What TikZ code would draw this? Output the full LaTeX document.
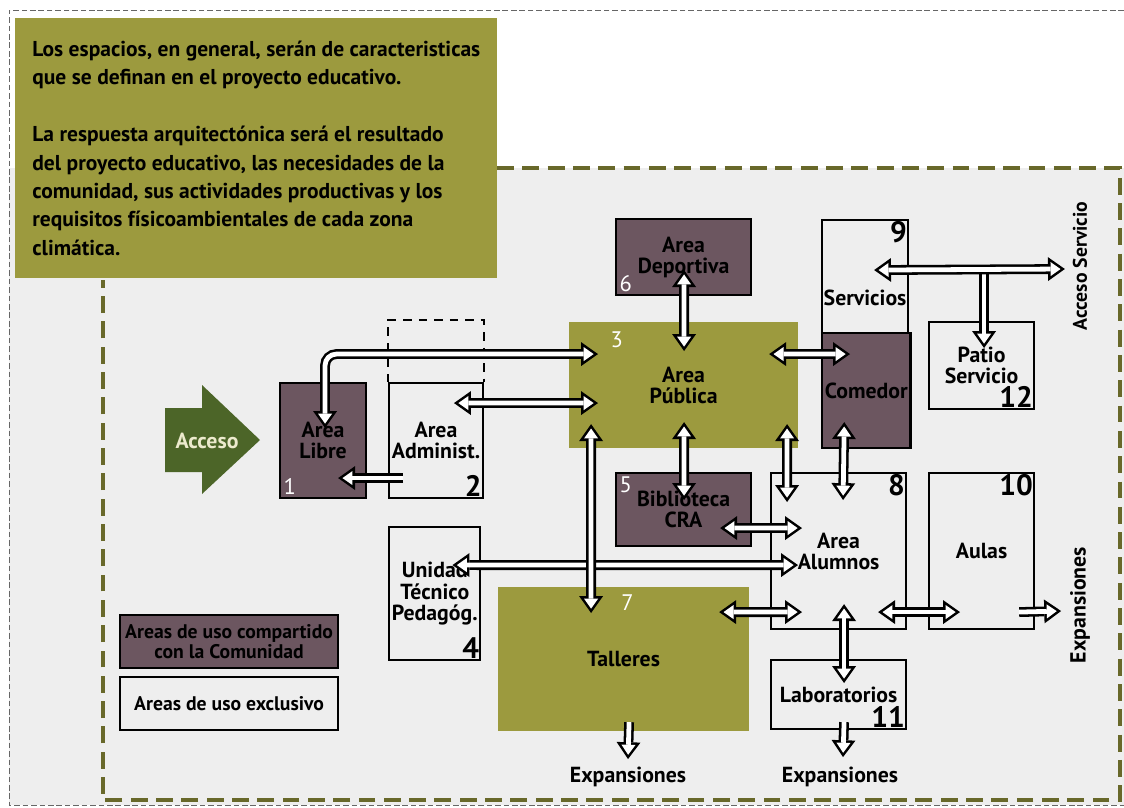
\documentclass[tikz,border=0pt]{standalone}
\usepackage{fontspec}
\setmainfont{PT Sans}
\usepackage{xcolor}
\usepackage{tikz}
\usetikzlibrary{arrows.meta,positioning}

\definecolor{oliva}{RGB}{156,154,62}
\definecolor{malva}{RGB}{108,86,96}
\definecolor{verdeacc}{RGB}{76,101,40}
\definecolor{borde}{RGB}{104,104,42}
\definecolor{fondo}{RGB}{238,238,238}
\definecolor{crema}{RGB}{236,234,205}

\begin{document}
\begin{tikzpicture}[
  x=0.025cm, y=-0.025cm,
  area/.style={draw, line width=1.5pt, inner sep=2pt, anchor=north west,
               font=\bfseries\fontsize{15.5}{15}\selectfont, align=center},
  comun/.style={area, fill=malva},
  exclus/.style={area, fill=fondo},
  num/.style={font=\bfseries\fontsize{21}{21}\selectfont, inner sep=1.5pt},
  numw/.style={font=\fontsize{16}{16}\selectfont, text=white, inner sep=3pt},
  rotulo/.style={font=\bfseries\fontsize{15.5}{15}\selectfont},
  puntab/.tip={Triangle[length=12pt, width=17pt, line width=0pt]},
  puntaw/.tip={Triangle[length=7.1pt, width=10pt, line width=0pt]},
  flecha/.style={white, line width=3.4pt, shorten <=3.1pt, shorten >=3.1pt,
                 {puntaw}-{puntaw},
                 preaction={draw=black, line width=7pt, shorten <=0pt, shorten >=0pt,
                            {puntab}-{puntab}}},
  flechau/.style={white, line width=3.4pt, shorten >=3.1pt, -{puntaw},
                  preaction={draw=black, line width=7pt, shorten >=0pt, -{puntab}}}
]
  \useasboundingbox (0,0) rectangle (1124,808);

  % Fondo y bordes
  \fill[fondo] (9,168) rectangle (1124,805);
  \draw[gray!80!black, line width=0.7pt, dash pattern=on 4pt off 2pt]
    (1124,10) -- (9,10) -- (9,805) -- (1124,805);
  \draw[borde, line width=2.2pt, dash pattern=on 12pt off 6pt]
    (497,168) -- (1120,168) -- (1120,800) -- (103,800) -- (103,280);

  % Texto
  \node[fill=oliva, anchor=north west, minimum width=12.05cm, minimum height=6.5cm,
        inner sep=0pt, align=left, font=\bfseries\fontsize{15.3}{20.2}\selectfont] (texto) at (15,18)
    {Los espacios, en general, serán de caracteristicas\\
     que se definan en el proyecto educativo.\\[20.2pt]
     La respuesta arquitectónica será el resultado\\
     del proyecto educativo, las necesidades de la\\
     comunidad, sus actividades productivas y los\\
     requisitos físicoambientales de cada zona\\
     climática.};

  % Acceso
  \fill[verdeacc] (165,408) -- (202,408) -- (202,385) -- (260,440) -- (202,494)
    -- (202,472) -- (165,472) -- cycle;
  \node[text=crema, font=\bfseries\fontsize{15.5}{15}\selectfont] (acceso) at (207,441) {Acceso};

  % Areas
  \node[comun, minimum width=2.15cm, minimum height=2.875cm,
        label={[numw, anchor=south west]south west:1}] (libre) at (279,382) {Area\\Libre};
  \node[exclus, minimum width=2.225cm, minimum height=2.875cm,
        label={[num, anchor=south east]south east:2}] (adm) at (388,382) {Area\\Administ.};
  \draw[line width=1.2pt, dash pattern=on 6pt off 5pt]
    (adm.north west) -- ++(0,-62) -| (adm.north east);
  \node[exclus, minimum width=2.225cm, minimum height=3.325cm,
        label={[num, anchor=south east]south east:4}] (utp) at (388,526) {Unidad\\Técnico\\Pedagóg.};

  \node[comun, minimum width=3.375cm, minimum height=1.9cm,
        label={[numw, anchor=south west]south west:6}] (dep) at (615,218) {Area\\Deportiva};
  \node[area, draw=none, fill=oliva, minimum width=5.725cm, minimum height=3.15cm,
        label={[numw, anchor=north west, xshift=0.95cm, yshift=-0.15cm]north west:3}] (pub) at (568,321) {Area\\Pública};
  \node[comun, minimum width=3.375cm, minimum height=1.825cm,
        label={[numw, anchor=north west]north west:5}] (bib) at (615,472) {Biblioteca\\CRA};
  \node[area, draw=none, fill=oliva, minimum width=6.275cm, minimum height=3.6cm,
        label={[numw, anchor=north, xshift=0.1cm, yshift=-0.1cm]north:7}] (tall) at (497,586) {Talleres};

  \node[exclus, minimum width=2.15cm, minimum height=2.825cm,
        label={[num, anchor=north east]north east:9},
        label={[rotulo, yshift=-0.54cm]center:Servicios}] (serv) at (821,219) {};
  \node[comun, minimum width=2.15cm, minimum height=2.875cm] (com) at (821,332) {Comedor};
  \node[exclus, minimum width=2.625cm, minimum height=2.175cm,
        label={[num, anchor=south east]south east:12}] (patio) at (928,321) {Patio\\Servicio};

  \node[exclus, minimum width=3.375cm, minimum height=3.9cm,
        label={[num, anchor=north east]north east:8}] (alum) at (770,472) {Area\\Alumnos};
  \node[exclus, minimum width=2.625cm, minimum height=3.9cm,
        label={[num, anchor=north east]north east:10}] (aulas) at (928,472) {Aulas};
  \node[exclus, minimum width=3.375cm, minimum height=1.725cm,
        label={[num, anchor=south east]south east:11}] (lab) at (770,659) {Laboratorios};

  % Leyenda
  \node[comun, minimum width=5.45cm, minimum height=1.325cm,
        font=\bfseries\fontsize{14}{14}\selectfont] (ley1) at (119,614)
    {Areas de uso compartido\\con la Comunidad};
  \node[exclus, minimum width=5.45cm, minimum height=1.325cm,
        font=\bfseries\fontsize{14}{14}\selectfont] (ley2) at (119,676)
    {Areas de uso exclusivo};

  % Salidas
  \node[rotulo, rotate=90, font=\bfseries\fontsize{14}{14}\selectfont] (accserv) at (1080,266) {Acceso Servicio};
  \node[rotulo, rotate=90] (expder) at (1080,605) {Expansiones};
  \node[rotulo] (exptall) at (628,777) {Expansiones};
  \node[rotulo] (explab) at (840,777) {Expansiones};

  % Flechas
  \draw[flecha, rounded corners=8pt] ([shift={(2,46)}]libre.north) |- ([shift={(30,-31)}]pub.west);
  \draw[flecha] ([shift={(-30,-37.5)}]adm.east) -- ([shift={(30,18)}]pub.west);
  \draw[flechau] ([shift={(15,37.5)}]adm.west) -- ([shift={(-29,37.5)}]libre.east);
  \draw[flecha] ([shift={(0.5,-26)}]dep.south) -- ([shift={(0.5,30)}]pub.north);
  \draw[flecha] ([shift={(-30,-31)}]pub.east) -- ([shift={(29,-36.5)}]com.west);
  \draw[flechau] ([shift={(2.5,-52)}]patio.north) -- ([shift={(2.5,27)}]patio.north);
  \draw[flecha] ([shift={(-35,-6.5)}]serv.east) -- ([shift={(-3,3)}]accserv.north);
  \draw[flecha] ([shift={(0.5,-27)}]pub.south) -- ([shift={(0.5,28)}]bib.north);
  \draw[flecha] ([shift={(103.5,-25)}]pub.south) -- ([shift={(-51.5,30)}]alum.north);
  \draw[flecha] ([shift={(-22,-27)}]com.south) -- ([shift={(4.5,28)}]alum.north);
  \draw[flecha] ([shift={(-32,18.5)}]bib.east) -- ([shift={(32,-23)}]alum.west);
  \draw[flecha] ([shift={(-29,-28.5)}]utp.east) -- ([shift={(28,14)}]alum.west);
  \draw[flecha] ([shift={(-92.5,-25)}]pub.south) -- ([shift={(-32.5,27)}]tall.north);
  \draw[flecha] ([shift={(-31,-47)}]tall.east) -- ([shift={(32,61)}]alum.west);
  \draw[flecha] ([shift={(5.5,-26)}]alum.south) -- ([shift={(5.5,24)}]lab.north);
  \draw[flecha] ([shift={(-29,61)}]alum.east) -- ([shift={(32,61)}]aulas.west);
  \draw[flechau] ([shift={(-16,61)}]aulas.east) -- ([shift={(-4,6)}]expder.north);
  \draw[flechau] ([shift={(5.5,-10)}]tall.south) -- ([shift={(0,-3)}]exptall.north);
  \draw[flechau] ([shift={(5.5,-8)}]lab.south) -- ([shift={(3,-5)}]explab.north);
\end{tikzpicture}
\end{document}
